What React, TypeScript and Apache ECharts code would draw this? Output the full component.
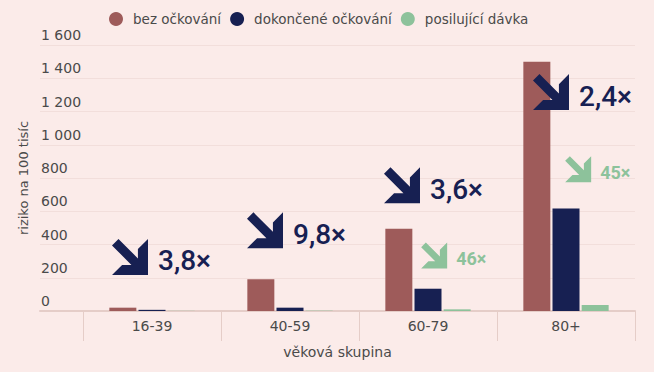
import React, { useEffect, useRef } from "react";
import * as echarts from "echarts";

// ---- data ----
const categories = ["16-39", "40-59", "60-79", "80+"];
const seriesNames = ["bez očkování", "dokončené očkování", "posilující dávka"];
const unvaccinated = [20, 191, 494, 1499];
const vaccinated = [7, 20, 134, 616];
const booster = [1, 2, 10, 36];
const yMin = 0;
const yMax = 1600;
const yInterval = 200;

// ratio annotations (navy: unvaccinated vs completed; green: unvaccinated vs booster)
const navyRatioLabels = ["3,8×", "9,8×", "3,6×", "2,4×"];
const navyRatioAnchor = [325, 485, 756, 1317];
const greenRatioCategories = ["60-79", "80+"];
const greenRatioLabels = ["46×", "45×"];
const greenRatioAnchor = [334, 853];

// ---- styles ----
const BG = "#fbebe9";
const RED = "#9e5b5a";
const NAVY = "#172052";
const GREEN = "#8dc29b";
const TEXT = "#4a4a4a";
const GRID_LINE = "#f2dedb";
const AXIS_LINE = "#e5cdc8";
const FONT = "DejaVu Sans";
const ARROW =
  "path://M18 0L72 54L72 28L100 0L100 100L0 100L28 72L54 72L0 18Z";
const navyOffsets = [-22, -25, -26, -15];
// green markers sit on the booster bar, which is one bar (29px) right of centre
const greenOffsets = [-23, -17];

const fmt = (v: number) => String(v).replace(/\B(?=(\d{3})+(?!\d))/g, " ");

export default function App() {
  const ref = useRef<HTMLDivElement>(null);
  useEffect(() => {
    if (!ref.current) return;
    const chart = echarts.init(ref.current, null, { renderer: "svg" });
    const gridTop = 45;
    const gridBottom = 61;
    chart.setOption({
      animation: false,
      backgroundColor: BG,
      textStyle: { fontFamily: FONT },
      legend: {
        top: 7,
        left: 104,
        icon: "circle",
        itemWidth: 24,
        itemHeight: 14,
        itemGap: 9,
        textStyle: { fontSize: 13.5, color: TEXT, fontFamily: FONT },
        data: seriesNames,
      },
      grid: [
        { left: 40, right: 19, top: gridTop, bottom: gridBottom, outerBoundsMode: "none", containLabel: false },
        { left: 83, right: 19, top: gridTop, bottom: gridBottom, outerBoundsMode: "none", containLabel: false },
      ],
      xAxis: [
        {
          gridIndex: 0,
          type: "value",
          min: 0,
          max: 1,
          axisLine: { show: true, onZero: false, lineStyle: { color: AXIS_LINE, width: 2 } },
          axisTick: { show: false },
          axisLabel: { show: false },
          splitLine: { show: false },
          name: "věková skupina",
          nameLocation: "middle",
          nameGap: 34,
          nameTextStyle: { fontSize: 14, color: TEXT, fontFamily: FONT },
        },
        {
          gridIndex: 1,
          type: "category",
          data: categories,
          axisLine: { show: false },
          axisTick: { show: true, length: 30, lineStyle: { color: AXIS_LINE } },
          axisLabel: { fontSize: 14, color: TEXT, margin: 8, fontFamily: FONT },
        },
      ],
      yAxis: [
        {
          gridIndex: 0,
          type: "value",
          min: yMin,
          max: yMax,
          interval: yInterval,
          axisLine: { show: false },
          axisTick: { show: false },
          splitLine: { lineStyle: { color: GRID_LINE } },
          axisLabel: {
            inside: true,
            margin: 1,
            align: "left",
            verticalAlign: "bottom",
            padding: [0, 0, 3, 0],
            fontSize: 14,
            color: TEXT,
            fontFamily: FONT,
            formatter: (v: number) => fmt(v),
          },
          name: "riziko na 100 tisíc",
          nameLocation: "middle",
          nameRotate: 90,
          nameGap: 3,
          nameTextStyle: { fontSize: 13, color: TEXT, fontFamily: FONT },
        },
        {
          gridIndex: 1,
          type: "value",
          min: yMin,
          max: yMax,
          interval: yInterval,
          show: false,
          splitLine: { show: false },
        },
      ],
      series: [
        {
          name: seriesNames[0],
          type: "bar",
          xAxisIndex: 1,
          yAxisIndex: 1,
          data: unvaccinated,
          barWidth: 27,
          barGap: "8%",
          itemStyle: { color: RED },
          emphasis: { disabled: true },
        },
        {
          name: seriesNames[1],
          type: "bar",
          xAxisIndex: 1,
          yAxisIndex: 1,
          data: vaccinated,
          barWidth: 27,
          barGap: "8%",
          itemStyle: { color: NAVY },
          emphasis: { disabled: true },
          markPoint: {
            silent: true,
            symbol: ARROW,
            symbolSize: 36,
            z: 10,
            itemStyle: { color: NAVY },
            label: {
              show: true,
              position: "right",
              distance: 10,
              offset: [0, 4],
              color: NAVY,
              fontFamily: "Roboto",
              fontWeight: 500,
              fontSize: 28,
            },
            data: categories.map((c, i) => ({
              coord: [c, navyRatioAnchor[i]],
              symbolOffset: [navyOffsets[i], 0],
              label: { formatter: navyRatioLabels[i] },
            })),
          },
        },
        {
          name: seriesNames[2],
          type: "bar",
          xAxisIndex: 1,
          yAxisIndex: 1,
          data: booster,
          barWidth: 27,
          barGap: "8%",
          itemStyle: { color: GREEN },
          emphasis: { disabled: true },
          markPoint: {
            silent: true,
            symbol: ARROW,
            symbolSize: 26,
            z: 10,
            itemStyle: { color: GREEN },
            label: {
              show: true,
              position: "right",
              distance: 9,
              offset: [0, 3],
              color: GREEN,
              fontFamily: "Roboto",
              fontWeight: "bold",
              fontSize: 18,
            },
            data: greenRatioCategories.map((c, i) => ({
              coord: [c, greenRatioAnchor[i]],
              symbolOffset: [greenOffsets[i], 0],
              label: { formatter: greenRatioLabels[i] },
            })),
          },
        },
      ],
    });
    return () => chart.dispose();
  }, []);
  return <div ref={ref} style={{ width: 654, height: 372, position: "fixed", left: 0, top: 0 }} />;
}
